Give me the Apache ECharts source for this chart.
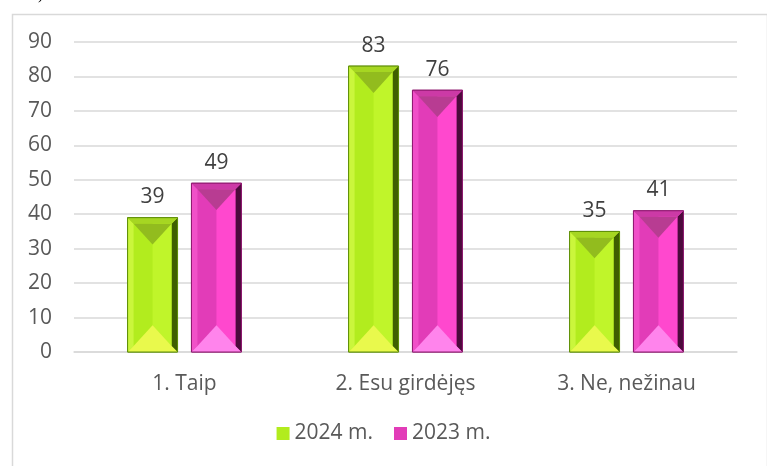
<!DOCTYPE html>
<html><head><meta charset="utf-8">
<script src="https://cdn.jsdelivr.net/npm/echarts@6/dist/echarts.min.js"></script>
<style>html,body{margin:0;padding:0;background:#fff}#c{width:767px;height:466px}</style>
</head><body><div id="c"></div>
<script>
var categories = ['1. Taip', '2. Esu girdėjęs', '3. Ne, nežinau'];
var seriesNames = ['2024 m.', '2023 m.'];
var values2024 = [39, 83, 35];
var values2023 = [49, 76, 41];
var yTicks = { min: 0, max: 90, interval: 10 };

var FONT = '"Open Sans", "Noto Sans", sans-serif';
var palettes = [
  { base: '#b2ec1e', light: '#caf63c', dark: '#3f5f00', topTri: '#92bc1e', topBand: '#a6d622', botTri: '#e9f94c', border: '#5f8f08', rightFace: '#c0f52a' },
  { base: '#e23cb8', light: '#f050c8', dark: '#4c0a3c', topTri: '#b83c92', topBand: '#cc3aa6', botTri: '#ff84ec', border: '#8f1a70', rightFace: '#ff48ce' }
];

function makeRender(si) {
  return function (params, api) {
    var cat = api.value(0), val = api.value(1);
    var base = api.coord([cat, 0]);
    var top = api.coord([cat, val]);
    var band = api.size([1, 0])[0];
    var w = band * 0.226;
    var off = band * 0.1445 * (si === 0 ? -1 : 1);
    var cx = base[0] + off;
    var x0 = cx - w / 2, x1 = cx + w / 2;
    var y0 = top[1], y1 = base[1];
    var p = palettes[si];
    var b = 6;
    var ix0 = x0 + b, ix1 = x1 - b, iy0 = y0 + b, iy1 = y1 - b;
    var iw = ix1 - ix0;
    var triH = Math.min(iw * 0.55, (iy1 - iy0) / 2);
    var children = [
      { type: 'rect', shape: { x: x0, y: y0, width: w, height: y1 - y0 }, style: { fill: p.base, stroke: p.border, lineWidth: 1 } },
      { type: 'polygon', shape: { points: [[x0, y0], [ix0, iy0], [ix0, iy1], [x0, y1]] }, style: { fill: p.light } },
      { type: 'polygon', shape: { points: [[x1, y0], [ix1, iy0], [ix1, iy1], [x1, y1]] }, style: { fill: p.dark } },
      { type: 'polygon', shape: { points: [[x0, y0], [x1, y0], [ix1, iy0], [ix0, iy0]] }, style: { fill: p.topBand } },
      { type: 'polygon', shape: { points: [[x0, y1], [x1, y1], [ix1, iy1], [ix0, iy1]] }, style: { fill: p.botTri } },
      { type: 'rect', shape: { x: cx, y: iy0, width: ix1 - cx, height: iy1 - iy0 }, style: { fill: p.rightFace } },
      { type: 'polygon', shape: { points: [[ix0, iy0], [ix1, iy0], [cx, iy0 + triH]] }, style: { fill: p.topTri } },
      { type: 'polygon', shape: { points: [[ix0, iy1], [ix1, iy1], [cx, iy1 - triH]] }, style: { fill: p.botTri } },
      { type: 'rect', shape: { x: x0, y: y0, width: w, height: y1 - y0 }, style: { fill: 'none', stroke: p.border, lineWidth: 1 } },
      { type: 'text', style: { text: String(val), x: cx, y: y0 - 10, align: 'center', verticalAlign: 'bottom', fill: '#404040', font: '21px ' + FONT } }
    ];
    return { type: 'group', children: children };
  };
}

var chart = echarts.init(document.getElementById('c'), null, { renderer: 'canvas' });
chart.setOption({
  animation: false,
  backgroundColor: '#fff',
  graphic: [
    { type: 'rect', left: 10, top: 12, shape: { width: 755, height: 470 }, style: { fill: 'none', stroke: '#d9d9d9', lineWidth: 1.5 }, silent: true },
    { type: 'text', left: 38, top: -13, style: { text: ')', fill: '#000', font: '16px "Liberation Serif", serif' } }
  ],
  grid: { left: 74, right: 30, top: 42, bottom: 114, containLabel: false },
  legend: {
    bottom: 17, left: 'center', itemWidth: 13, itemHeight: 13, itemGap: 21,
    icon: 'rect',
    textStyle: { color: '#595959', fontSize: 21, fontFamily: FONT },
    data: seriesNames
  },
  xAxis: {
    type: 'category', data: categories,
    axisLine: { lineStyle: { color: '#d9d9d9', width: 1.5 } },
    axisTick: { show: false },
    axisLabel: { color: '#595959', fontSize: 21, fontFamily: FONT, margin: 22 }
  },
  yAxis: {
    type: 'value', min: yTicks.min, max: yTicks.max, interval: yTicks.interval,
    axisLine: { show: false }, axisTick: { show: false },
    axisLabel: { color: '#595959', fontSize: 21, fontFamily: FONT, margin: 22 },
    splitLine: { lineStyle: { color: '#d9d9d9', width: 1.5 } }
  },
  series: [
    { name: seriesNames[0], type: 'custom', renderItem: makeRender(0), itemStyle: { color: palettes[0].base },
      encode: { x: 0, y: 1 }, data: values2024.map(function (v, i) { return [i, v]; }) },
    { name: seriesNames[1], type: 'custom', renderItem: makeRender(1), itemStyle: { color: palettes[1].base },
      encode: { x: 0, y: 1 }, data: values2023.map(function (v, i) { return [i, v]; }) }
  ]
});
</script></body></html>
